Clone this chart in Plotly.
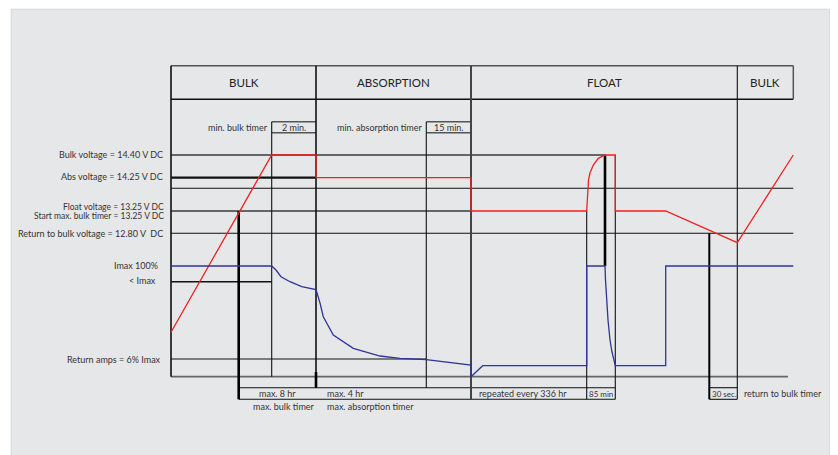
import plotly.graph_objects as go

# ---------------- data (schematic units) ----------------
phase_names = ["BULK", "ABSORPTION", "FLOAT", "BULK"]
phase_edges = [171, 316, 471, 737.3, 793.3]
header_top, header_bot = 65.7, 99.3

# time marks
t_start, t_maxbulk, t_minbulk, t_abs = 171, 238.7, 271.7, 316
t_minabs, t_float = 426.3, 471
t_eq_start, t_eq_peak, t_eq_end = 586.7, 605, 615.3
t_load, t_rtimer, t_bulk2, t_end = 665.7, 709.3, 737.3, 793.3

# levels
v_bulk, v_abs, v_mid, v_float, v_ret = 155, 177.7, 188.3, 211, 233.3
i_max, i_lt, i_ret, base = 266, 281.7, 359, 376.7
timer_top, timer_bot = 387.7, 399.3
minbox_top, minbox_bot = 121.7, 132.7

level_labels = ["Bulk voltage = 14.40 V DC", "Abs voltage = 14.25 V DC",
                "Float voltage = 13.25 V DC", "Start max. bulk timer = 13.25 V DC",
                "Return to bulk voltage = 12.80 V  DC", "Imax 100%", "< Imax",
                "Return amps = 6% Imax"]
level_label_y = [154, 176.7, 206.8, 216.2, 233.3, 265.7, 280.7, 359]
level_label_x = [164, 164, 164.5, 164.5, 164, 159, 157, 162]

# voltage curve (red)
volt_x = [171, 271.7, 316, 316, 471, 471, 586.7, 587.7, 588.5, 590, 593.3,
          598.3, 602, 605, 615.3, 615.3, 665.7, 737.3, 793.3]
volt_y = [332.3, 155, 155, 177.7, 177.7, 211, 211, 190, 180, 173, 165,
          158.3, 156, 155, 155, 211, 211, 242.7, 155]

# current curve (blue)
amp_x = [171, 271.7, 276, 281, 290, 301.7, 316, 316.5, 320, 323.3, 333.3, 353.3,
         380, 400, 426.3, 471, 471, 482.7, 586.7, 586.7, 605, 605.5, 606.5, 608,
         610, 612, 615.3, 665.7, 665.7, 793.3]
amp_y = [266, 266, 270, 276.7, 281.7, 286.7, 289.5, 291, 303, 316.7, 335, 348.3,
         356, 358.3, 359.7, 365, 376.7, 365.7, 365.7, 266, 266, 280, 300, 320,
         340, 352, 365.7, 365.7, 266, 266]

min_timer_labels = ["min. bulk timer", "min. absorption timer"]
min_timer_values = ["2 min.", "15 min."]
min_timer_box = [(t_minbulk, t_abs), (t_minabs, t_float)]

bottom_labels = ["max. 8 hr", "max. 4 hr", "repeated every 336 hr", "85 min", "30 sec.",
                 "return to bulk timer"]
bottom_label_x = [258, 326, 478, 588, 711, 743]
bottom_label_fs = [9, 9, 9, 8, 8, 9]
sub_labels = ["max. bulk timer", "max. absorption timer"]
sub_label_x = [252, 326]

TXT = "#333333"
FONT = "Lato"
FS = 9

fig = go.Figure()


def segs(lst, color, width, dash="solid"):
    xs, ys = [], []
    for x0, y0, x1, y1 in lst:
        xs += [x0, x1, None]
        ys += [y0, y1, None]
    fig.add_trace(go.Scatter(x=xs, y=ys, mode="lines", hoverinfo="skip",
                             line=dict(color=color, width=width, dash=dash),
                             showlegend=False))


# header box
segs([(phase_edges[0], header_top, phase_edges[-1], header_top)], "#555555", 1.5)
segs([(phase_edges[0], header_bot, phase_edges[-1], header_bot)], "#111111", 1.5)
segs([(phase_edges[-1], header_top, phase_edges[-1], header_bot)], "#555555", 1.5)

# gray level lines
segs([(t_start, v_bulk, t_eq_peak, v_bulk),
      (t_start, v_float, t_float, v_float),
      (t_start, base, 788, base)], "#666666", 1.8)
# thin black level lines
segs([(t_start, v_mid, t_end, v_mid),
      (t_start, v_ret, t_end, v_ret),
      (t_start, i_ret, t_minabs, i_ret),
      (t_maxbulk, timer_top, t_eq_end, timer_top),
      (t_maxbulk, timer_bot, t_eq_end, timer_bot),
      (t_rtimer, timer_top, t_bulk2, timer_top),
      (t_rtimer, timer_bot, t_bulk2, timer_bot)], "#111111", 1.1)
segs([(t_start, i_lt, t_minbulk, i_lt)], "#111111", 1.6)
segs([(t_start, v_abs, t_abs, v_abs)], "#111111", 2.2)

# min timer boxes
for (a, b) in min_timer_box:
    segs([(a, minbox_top, b, minbox_top), (a, minbox_bot, b, minbox_bot)], "#555555", 1.5)

# vertical lines
segs([(phase_edges[0], header_top, phase_edges[0], base),
      (t_abs, header_top, t_abs, base)], "#111111", 1.6)
segs([(t_float, header_top, t_float, timer_bot)], "#444444", 2)
segs([(t_bulk2, header_top, t_bulk2, timer_bot),
      (t_minbulk, minbox_top, t_minbulk, base),
      (t_minabs, minbox_top, t_minabs, timer_top),
      (t_eq_start, v_float, t_eq_start, timer_bot),
      (t_eq_end, v_bulk, t_eq_end, timer_bot)], "#111111", 1.1)
segs([(t_maxbulk, v_float, t_maxbulk, timer_bot),
      (t_eq_peak, v_bulk, t_eq_peak, i_max),
      (t_abs, 372, t_abs, timer_top)], "#000000", 2.6)
segs([(t_rtimer, v_ret, t_rtimer, timer_bot)], "#000000", 2)

# curves
fig.add_trace(go.Scatter(x=volt_x, y=volt_y, mode="lines", hoverinfo="skip",
                         line=dict(color="#ee2222", width=1.3), showlegend=False))
fig.add_trace(go.Scatter(x=amp_x, y=amp_y, mode="lines", hoverinfo="skip",
                         line=dict(color="#30349c", width=1.3), showlegend=False))

ann = []
for i, name in enumerate(phase_names):
    ann.append(dict(x=(phase_edges[i] + phase_edges[i + 1]) / 2, y=(header_top + header_bot) / 2,
                    text=name, showarrow=False, font=dict(size=11.5, color="#222222", family=FONT)))
for k, (lab, x, y) in enumerate(zip(level_labels, level_label_x, level_label_y)):
    ann.append(dict(x=x, y=y, text=lab, xanchor="right", showarrow=False,
                    font=dict(size=FS - 0.5 if k in (2, 3) else FS, color=TXT, family=FONT)))
for lab, val, (a, b) in zip(min_timer_labels, min_timer_values, min_timer_box):
    ann.append(dict(x=a - 3, y=(minbox_top + minbox_bot) / 2, text=lab, xanchor="right",
                    showarrow=False, font=dict(size=FS, color=TXT, family=FONT)))
    ann.append(dict(x=(a + b) / 2, y=(minbox_top + minbox_bot) / 2, text=val,
                    showarrow=False, font=dict(size=FS, color=TXT, family=FONT)))
for lab, x, fs in zip(bottom_labels, bottom_label_x, bottom_label_fs):
    ann.append(dict(x=x, y=(timer_top + timer_bot) / 2, text=lab, xanchor="left",
                    showarrow=False, font=dict(size=fs, color=TXT, family=FONT)))
for lab, x in zip(sub_labels, sub_label_x):
    ann.append(dict(x=x, y=406, text=lab, xanchor="left",
                    showarrow=False, font=dict(size=FS, color=TXT, family=FONT)))
for a in ann:
    a["xref"] = "x"
    a["yref"] = "y"
    a["yanchor"] = "middle"
    a["borderpad"] = 0

shapes = [
    dict(type="rect", xref="x", yref="y", x0=10, y0=8, x1=833, y1=460,
         fillcolor="#f3f3f3", line=dict(width=0), layer="below"),
    dict(type="rect", xref="x", yref="y", x0=11, y0=9, x1=831, y1=460,
         fillcolor="#dcdcdc", line=dict(width=0), layer="below"),
    dict(type="rect", xref="x", yref="y", x0=12, y0=10, x1=829, y1=460,
         fillcolor="#e6e7e9", line=dict(width=0), layer="below"),
]

# page body has an 8px margin: the figure spans page pixels 8..838 / 8..455
fig.update_layout(
    width=830, height=447, margin=dict(l=0, r=0, t=0, b=0),
    paper_bgcolor="white", plot_bgcolor="white",
    xaxis=dict(range=[8, 838], visible=False, fixedrange=True),
    yaxis=dict(range=[455, 8], visible=False, fixedrange=True),
    annotations=ann, shapes=shapes, showlegend=False,
)
fig.write_html("out.html")
